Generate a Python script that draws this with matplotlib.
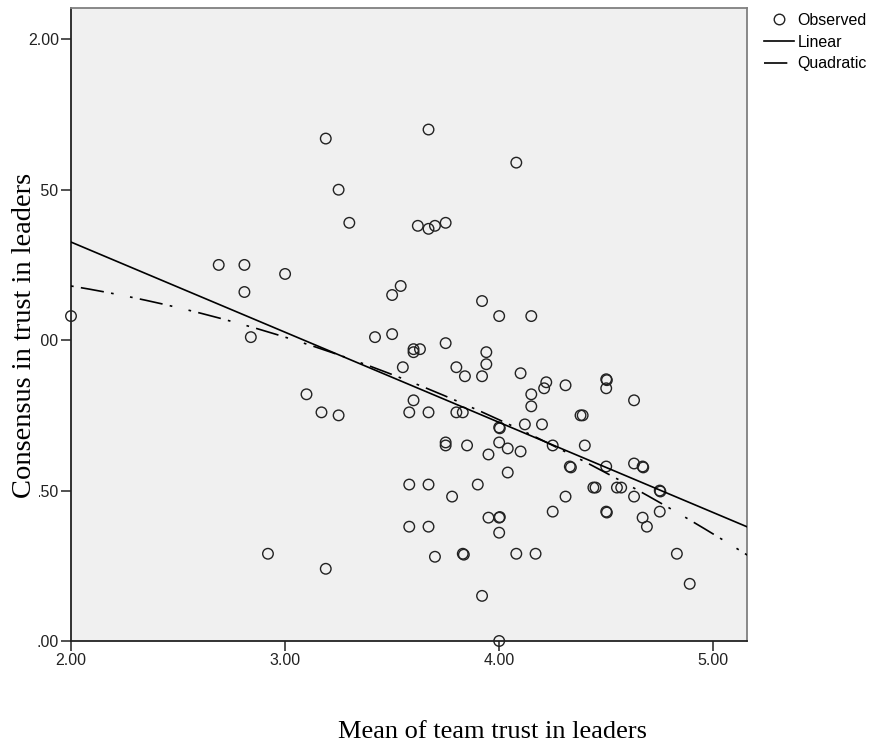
import numpy as np
import matplotlib
matplotlib.use("Agg")
import matplotlib.pyplot as plt
from matplotlib.lines import Line2D

# ---- data ----
x_obs = [2.00, 2.69, 2.81, 2.81, 2.84, 3.00, 2.92, 3.19, 3.25, 3.30,
         3.10, 3.17, 3.25, 3.19, 3.42, 3.50, 3.50, 3.54, 3.55, 3.60,
         3.60, 3.63, 3.60, 3.58, 3.67, 3.58, 3.67, 3.58, 3.67, 3.70,
         3.62, 3.67, 3.70, 3.75, 3.67, 4.08, 3.75, 3.80, 3.84, 3.92,
         3.94, 3.94, 3.92, 4.00, 4.15, 3.75, 3.75, 3.85, 3.80, 3.83,
         3.78, 3.90, 3.95, 3.95, 4.00, 4.003, 4.00, 3.83, 3.835, 4.08,
         4.17, 3.92, 4.00, 4.00, 4.003, 4.00, 4.04, 4.10, 4.04, 4.12,
         4.10, 4.22, 4.21, 4.31, 4.15, 4.15, 4.20, 4.25, 4.40, 4.38,
         4.39, 4.33, 4.335, 4.50, 4.503, 4.50, 4.63, 4.50, 4.63, 4.67,
         4.673, 4.44, 4.45, 4.55, 4.57, 4.75, 4.753, 4.31, 4.63, 4.25,
         4.50, 4.503, 4.67, 4.69, 4.75, 4.83, 4.89]
y_obs = [1.08, 1.25, 1.25, 1.16, 1.01, 1.22, 0.29, 1.67, 1.50, 1.39,
         0.82, 0.76, 0.75, 0.24, 1.01, 1.02, 1.15, 1.18, 0.91, 0.97,
         0.96, 0.97, 0.80, 0.76, 0.76, 0.52, 0.52, 0.38, 0.38, 0.28,
         1.38, 1.37, 1.38, 1.39, 1.70, 1.59, 0.99, 0.91, 0.88, 0.88,
         0.96, 0.92, 1.13, 1.08, 1.08, 0.66, 0.65, 0.65, 0.76, 0.76,
         0.48, 0.52, 0.62, 0.41, 0.41, 0.412, 0.36, 0.29, 0.287, 0.29,
         0.29, 0.15, 0.00, 0.71, 0.707, 0.66, 0.64, 0.63, 0.56, 0.72,
         0.89, 0.86, 0.84, 0.85, 0.82, 0.78, 0.72, 0.65, 0.65, 0.75,
         0.75, 0.58, 0.577, 0.87, 0.867, 0.84, 0.80, 0.58, 0.59, 0.58,
         0.577, 0.51, 0.51, 0.51, 0.51, 0.50, 0.497, 0.48, 0.48, 0.43,
         0.43, 0.427, 0.41, 0.38, 0.43, 0.29, 0.19]

# fitted curves (coefficients for np.polyval, highest power first)
lin_coef = [-0.2997, 1.9254]
quad_coef = [-0.0524, 0.092, 1.2056]

x_ticks = [2.0, 3.0, 4.0, 5.0]
x_tick_labels = ["2.00", "3.00", "4.00", "5.00"]
y_ticks = [0.0, 0.5, 1.0, 1.5, 2.0]
y_tick_labels = [".00", ".50", "1.00", "1.50", "2.00"]
x_range = (2.0, 5.159)
y_range = (0.0, 2.103)

legend_labels = ["Observed", "Linear", "Quadratic"]
x_label = "Mean of team trust in leaders"
y_label = "Consensus in trust in leaders"

# ---- figure ----
W, H = 877, 745
fig = plt.figure(figsize=(W / 100, H / 100), dpi=100)
fig.patch.set_facecolor("white")
ax = fig.add_axes([71 / W, 1 - 641 / H, (747.3 - 71) / W, (641 - 8.3) / H])
ax.set_facecolor("#F0F0F0")

ax.set_xlim(*x_range)
ax.set_ylim(*y_range)

sans = ["Liberation Sans", "DejaVu Sans"]
serif = ["Liberation Serif", "DejaVu Serif"]

ax.scatter(x_obs, y_obs, s=7.6 ** 2, facecolors="none", edgecolors="#222222",
           linewidths=1.0, zorder=3, clip_on=False)

xx = np.linspace(x_range[0], x_range[1], 400)
ax.plot(xx, np.polyval(lin_coef, xx), color="black", lw=1.2, zorder=4)
ax.plot(xx, np.polyval(quad_coef, xx), color="black", lw=1.2, zorder=4,
        linestyle=(0, (1.6, 4.4, 14.0, 4.4, 1.6, 10.0)))

ax.set_xticks(x_ticks)
ax.set_xticklabels(x_tick_labels, fontfamily=sans, fontsize=11.5)
ax.set_yticks(y_ticks)
ax.set_yticklabels(y_tick_labels, fontfamily=sans, fontsize=11.5)
ax.tick_params(axis="both", direction="out", length=7, width=1.1,
               color="#222222", pad=1.5, labelcolor="#222222")

for side in ["left", "bottom"]:
    ax.spines[side].set_color("#222222")
    ax.spines[side].set_linewidth(1.3)
for side in ["top", "right"]:
    ax.spines[side].set_color("#808080")
    ax.spines[side].set_linewidth(1.3)

# axis titles (serif, as in the reference)
fig.text(492 / W, 1 - 732 / H, x_label, fontfamily=serif, fontsize=19,
         ha="center", va="center", color="black")
fig.text(25 / W, 1 - 335 / H, y_label, fontfamily=serif, fontsize=20.5,
         rotation=90, ha="center", va="center", color="black", zorder=5,
         bbox=dict(facecolor="white", edgecolor="none", pad=1.0))

# legend
handles = [
    Line2D([], [], linestyle="none", marker="o", markersize=7.6,
           markerfacecolor="none", markeredgecolor="#222222", markeredgewidth=1.0),
    Line2D([], [], color="black", lw=1.2),
    Line2D([], [], color="black", lw=1.2, linestyle=(0, (14.0, 4.4, 1.6, 4.4))),
]
leg = fig.legend(handles, legend_labels, loc="upper left",
                 bbox_to_anchor=(764 / W, 1 - 13 / H), frameon=False,
                 prop={"family": sans, "size": 11.5}, handlelength=1.9,
                 handletextpad=0.2, labelspacing=0.42, borderpad=0,
                 borderaxespad=0)

fig.savefig("out.png", dpi=100, facecolor="white")
